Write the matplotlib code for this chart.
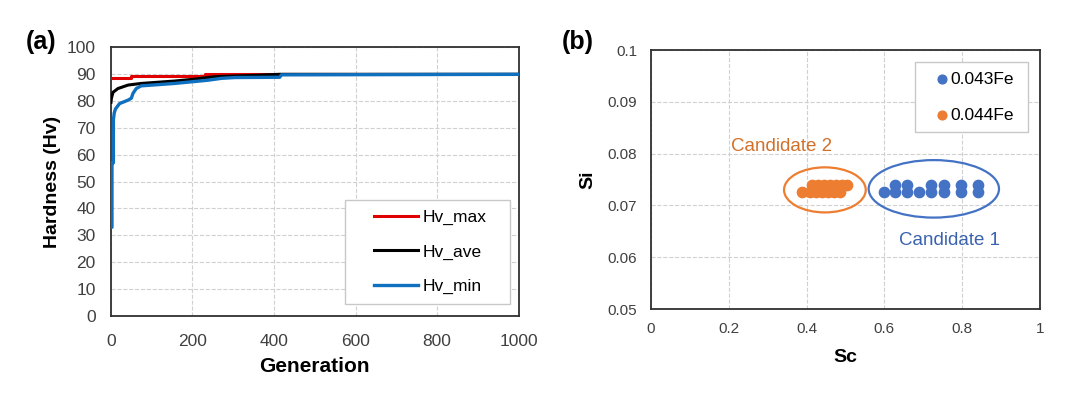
import matplotlib.pyplot as plt
from matplotlib.patches import Ellipse, Rectangle

plt.rcParams['font.family'] = ['Liberation Sans', 'DejaVu Sans']

# (a) hardness vs generation, breakpoints
gen_max = [0, 48, 48, 230, 230, 1000]
hv_max = [88.5, 88.5, 89.4, 89.4, 89.9, 89.9]

gen_ave = [0, 1, 5, 17, 42, 74, 156, 205, 254, 287, 350, 414, 1000]
hv_ave = [79.5, 80.9, 83.2, 84.6, 85.9, 86.5, 87.4, 88.1, 89.0, 89.2, 89.5, 89.9, 89.9]

gen_min = [0, 2.5, 2.5, 6, 6, 8, 11, 21, 42, 50, 54, 62, 74, 156, 197, 238, 271, 304, 414, 418, 1000]
hv_min = [33, 33, 57, 57, 73, 75.5, 77, 79, 80.3, 81, 82.8, 84.6, 85.6, 86.5, 87.1, 87.7, 88.4, 88.7,
          88.8, 89.7, 89.9]

# (b) candidate compositions
sc_043 = [0.600, 0.627, 0.627, 0.657, 0.657, 0.690, 0.719, 0.719, 0.753, 0.753, 0.796, 0.796, 0.841, 0.841]
si_043 = [0.0726, 0.0725, 0.0740, 0.0725, 0.0740, 0.0726, 0.0725, 0.0740, 0.0725, 0.0740, 0.0725, 0.0740, 0.0725, 0.0740]

sc_044 = [0.387, 0.410, 0.425, 0.440, 0.455, 0.470, 0.485, 0.415, 0.430, 0.445, 0.460, 0.475, 0.490, 0.505]
si_044 = [0.0725, 0.0725, 0.0725, 0.0725, 0.0725, 0.0725, 0.0725, 0.0740, 0.0740, 0.0740, 0.0740, 0.0740, 0.0740, 0.0740]

blue = '#4472C4'
orange = '#ED7D31'
tick_col = '#404040'

fig = plt.figure(figsize=(10.7, 3.93), dpi=100)

# ---- panel (a)
ax1 = fig.add_axes([0.1037, 0.196, 0.381, 0.684])
ax1.plot(gen_max, hv_max, color='#E00000', lw=2.2, label='Hv_max', zorder=3)
ax1.plot(gen_ave, hv_ave, color='black', lw=2.2, label='Hv_ave', zorder=4)
ax1.plot(gen_min, hv_min, color='#1070C0', lw=2.4, label='Hv_min', zorder=5)
ax1.set_xlim(0, 1000)
ax1.set_ylim(0, 100)
ax1.set_xticks(range(0, 1001, 200))
ax1.set_yticks(range(0, 101, 10))
ax1.grid(True, ls='--', color='#D0D0D0', lw=0.8)
ax1.set_axisbelow(True)
ax1.tick_params(length=0, labelsize=12.5, labelcolor=tick_col)
ax1.tick_params(axis='y', pad=11)
ax1.tick_params(axis='x', pad=13)
for s in ax1.spines.values():
    s.set_linewidth(1.3)
    s.set_color('#303030')
ax1.set_xlabel('Generation', fontsize=15, fontweight='bold', labelpad=6)
ax1.set_ylabel('Hardness (Hv)', fontsize=14, fontweight='bold', labelpad=4)
ax1.add_patch(Rectangle((0.574, 0.045), 0.406, 0.386, transform=ax1.transAxes, fill=True,
                        fc='white', ec='#C8C8C8', lw=1.0, zorder=6))
leg1 = ax1.legend(loc='center left', bbox_to_anchor=(0.625, 0.238), fontsize=12.5,
                  frameon=False, handlelength=2.5, labelspacing=1.1, borderpad=0,
                  handletextpad=0.3)
leg1.set_zorder(7)
fig.text(0.024, 0.893, '(a)', fontsize=18, fontweight='bold', va='center')

# ---- panel (b)
ax2 = fig.add_axes([0.6084, 0.2137, 0.3636, 0.659])
ax2.scatter(sc_043, si_043, s=55, color=blue, label='0.043Fe', zorder=3)
ax2.scatter(sc_044, si_044, s=55, color=orange, label='0.044Fe', zorder=3)
ax2.add_patch(Ellipse((0.447, 0.0730), 0.21, 0.0087, fill=False, ec=orange, lw=1.6, zorder=4))
ax2.add_patch(Ellipse((0.727, 0.0732), 0.335, 0.0111, fill=False, ec=blue, lw=1.6, zorder=4))
ax2.text(0.336, 0.0813, 'Candidate 2', color='#D2702A', fontsize=13.5, ha='center', va='center')
ax2.text(0.767, 0.0633, 'Candidate 1', color='#3A62AE', fontsize=13.5, ha='center', va='center')
ax2.set_xlim(0, 1)
ax2.set_ylim(0.05, 0.1)
ax2.set_xticks([0, 0.2, 0.4, 0.6, 0.8, 1])
ax2.set_xticklabels(['0', '0.2', '0.4', '0.6', '0.8', '1'])
ax2.set_yticks([0.05, 0.06, 0.07, 0.08, 0.09, 0.1])
ax2.set_yticklabels(['0.05', '0.06', '0.07', '0.08', '0.09', '0.1'])
ax2.grid(True, ls='--', color='#D0D0D0', lw=0.8)
ax2.set_axisbelow(True)
ax2.tick_params(length=0, labelsize=11, labelcolor=tick_col)
ax2.tick_params(axis='y', pad=10)
ax2.tick_params(axis='x', pad=9)
for s in ax2.spines.values():
    s.set_linewidth(1.3)
    s.set_color('#303030')
ax2.set_xlabel('Sc', fontsize=14, fontweight='bold', labelpad=10)
ax2.set_ylabel('Si', fontsize=14, fontweight='bold', labelpad=8)
ax2.add_patch(Rectangle((0.679, 0.683), 0.290, 0.271, transform=ax2.transAxes, fill=True,
                        fc='white', ec='#C8C8C8', lw=1.0, zorder=6))
leg2 = ax2.legend(loc='center left', bbox_to_anchor=(0.710, 0.817), fontsize=12.5,
                  frameon=False, handlelength=0.7, labelspacing=1.2, borderpad=0,
                  handletextpad=0.15, markerscale=0.85)
leg2.set_zorder(7)
fig.text(0.525, 0.893, '(b)', fontsize=18, fontweight='bold', va='center')

fig.savefig('out.png', dpi=100)
